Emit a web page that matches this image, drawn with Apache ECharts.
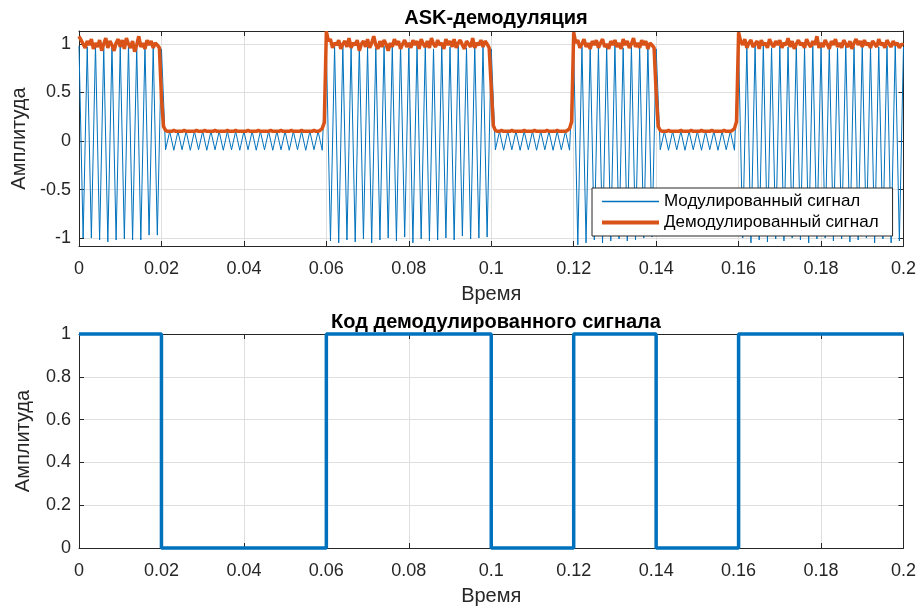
<!DOCTYPE html>
<html>
<head>
<meta charset="utf-8">
<script src="https://cdn.jsdelivr.net/npm/echarts@6/dist/echarts.min.js"></script>
<style>
  html, body { margin: 0; padding: 0; background: #fff; }
  #chart { width: 919px; height: 609px; }
</style>
</head>
<body>
<div id="chart"></div>
<script>
// Sample step of the demodulated envelope (s) and of the carrier extremes (half period, s)
const demodStep = 0.0005;
const carrierHalfPeriod = 0.001;

// Transmitted bits, one per 0.02 s
const bitDuration = 0.02;
const bits = [1, 0, 0, 1, 1, 0, 1, 0, 1, 1];

// Modulated signal: successive carrier extremes (peak, trough, ...), 10 per row = 0.01 s
const modulatedExtremes = [
  0.98, -1.00, 0.97, -1.00, 0.99, -1.02, 0.96, -1.04, 0.98, -1.02,
  0.97, -1.01, 0.99, -1.02, 0.96, -1.02, 0.98, -0.97, 0.97, -0.97,
  0.95, -0.09, 0.10, -0.095, 0.10, -0.09, 0.10, -0.095, 0.10, -0.09,
  0.10, -0.095, 0.10, -0.09, 0.10, -0.095, 0.10, -0.09, 0.10, -0.095,
  0.10, -0.09, 0.10, -0.095, 0.10, -0.09, 0.10, -0.095, 0.10, -0.09,
  0.10, -0.095, 0.10, -0.09, 0.10, -0.095, 0.10, -0.09, 0.10, -0.095,
  0.95, -1.03, 0.97, -1.05, 0.98, -1.02, 0.96, -1.04, 0.99, -1.01,
  0.97, -1.05, 0.96, -1.02, 0.98, -1.00, 0.97, -1.03, 0.99, -0.99,
  0.96, -1.05, 0.98, -1.01, 0.97, -1.03, 0.95, -1.02, 0.98, -1.00,
  0.97, -1.02, 0.99, -0.98, 0.96, -1.01, 0.98, -1.00, 0.97, -0.99,
  0.95, -0.09, 0.10, -0.095, 0.10, -0.09, 0.10, -0.095, 0.10, -0.09,
  0.10, -0.095, 0.10, -0.09, 0.10, -0.095, 0.10, -0.09, 0.10, -0.095,
  0.94, -1.07, 0.97, -1.05, 0.98, -1.02, 0.96, -1.05, 0.97, -1.03,
  0.99, -1.01, 0.96, -1.03, 0.98, -1.02, 0.97, -1.00, 0.98, -0.99,
  0.95, -0.09, 0.10, -0.095, 0.10, -0.09, 0.10, -0.095, 0.10, -0.09,
  0.10, -0.095, 0.10, -0.09, 0.10, -0.095, 0.10, -0.09, 0.10, -0.095,
  0.96, -1.00, 0.97, -1.05, 0.98, -1.02, 0.99, -1.04, 0.96, -1.01,
  0.98, -1.03, 0.97, -1.00, 0.99, -1.02, 0.96, -1.05, 0.98, -1.01,
  0.97, -1.00, 0.98, -1.03, 0.96, -1.01, 0.99, -1.04, 0.97, -1.02,
  0.98, -1.00, 0.96, -1.05, 0.97, -1.01, 0.98, -1.05, 0.99, -1.03,
  0.97
];

// Demodulated envelope, 20 samples per row = 0.01 s
const demodulated = [
  1.08, 1.04, 1.00, 0.96, 1.03, 0.99, 1.05, 0.95, 1.01, 0.97, 1.04, 0.93, 1.00, 1.06, 0.96, 1.03, 0.99, 0.93, 1.01, 1.05,
  0.97, 1.04, 0.95, 1.06, 1.00, 0.96, 1.03, 0.92, 0.99, 1.08, 0.97, 1.01, 0.95, 1.04, 0.99, 1.03, 0.96, 1.01, 0.99, 0.96,
  0.45, 0.15, 0.11, 0.10, 0.10, 0.10, 0.11, 0.10, 0.10, 0.10, 0.10, 0.11, 0.10, 0.10, 0.10, 0.10, 0.10, 0.11, 0.10, 0.10,
  0.10, 0.11, 0.10, 0.10, 0.10, 0.10, 0.11, 0.10, 0.10, 0.10, 0.10, 0.10, 0.11, 0.10, 0.10, 0.10, 0.11, 0.10, 0.10, 0.10,
  0.10, 0.10, 0.11, 0.10, 0.10, 0.10, 0.10, 0.11, 0.10, 0.10, 0.10, 0.10, 0.10, 0.11, 0.10, 0.10, 0.10, 0.10, 0.11, 0.10,
  0.10, 0.10, 0.10, 0.11, 0.10, 0.10, 0.10, 0.10, 0.11, 0.10, 0.10, 0.10, 0.10, 0.10, 0.11, 0.10, 0.10, 0.11, 0.13, 0.19,
  1.13, 1.03, 1.05, 0.96, 1.01, 0.99, 1.04, 0.95, 1.00, 1.03, 0.97, 1.06, 0.96, 1.01, 0.99, 1.04, 0.93, 1.00, 1.03, 0.97,
  1.05, 0.96, 1.01, 1.08, 0.99, 0.95, 1.03, 0.97, 1.04, 1.00, 0.93, 1.01, 0.97, 1.05, 0.99, 1.03, 0.95, 1.00, 1.04, 0.97,
  1.01, 0.96, 1.04, 0.99, 1.03, 0.95, 1.05, 1.00, 0.97, 1.03, 0.96, 1.06, 1.00, 0.97, 1.04, 0.99, 1.01, 0.95, 1.05, 0.99,
  1.03, 0.97, 1.05, 0.96, 1.01, 1.04, 0.99, 0.95, 1.03, 1.00, 0.97, 1.06, 0.96, 1.01, 0.99, 1.04, 0.97, 1.03, 1.00, 0.96,
  0.55, 0.16, 0.11, 0.10, 0.10, 0.11, 0.10, 0.10, 0.10, 0.10, 0.11, 0.10, 0.10, 0.10, 0.10, 0.10, 0.11, 0.10, 0.10, 0.10,
  0.10, 0.11, 0.10, 0.10, 0.10, 0.10, 0.10, 0.11, 0.10, 0.10, 0.10, 0.10, 0.11, 0.10, 0.10, 0.10, 0.10, 0.11, 0.13, 0.20,
  1.12, 1.01, 1.04, 0.96, 1.00, 1.05, 0.97, 1.01, 0.95, 1.03, 0.99, 1.04, 0.96, 1.01, 1.05, 0.97, 1.00, 0.95, 1.03, 0.99,
  1.04, 0.97, 1.01, 0.95, 1.05, 0.99, 1.03, 0.96, 1.00, 1.06, 0.97, 1.01, 0.96, 1.04, 0.99, 1.03, 0.95, 1.01, 0.99, 0.96,
  0.50, 0.15, 0.11, 0.10, 0.10, 0.10, 0.11, 0.10, 0.10, 0.10, 0.10, 0.10, 0.11, 0.10, 0.10, 0.10, 0.10, 0.11, 0.10, 0.10,
  0.10, 0.10, 0.11, 0.10, 0.10, 0.10, 0.10, 0.11, 0.10, 0.10, 0.10, 0.10, 0.10, 0.11, 0.10, 0.10, 0.10, 0.11, 0.13, 0.20,
  1.12, 1.03, 0.99, 1.05, 0.96, 1.01, 1.04, 0.97, 1.00, 1.03, 0.95, 1.04, 0.99, 1.01, 0.96, 1.05, 1.00, 0.97, 1.03, 0.99,
  1.04, 0.96, 1.01, 0.99, 1.06, 0.97, 1.03, 0.95, 1.00, 1.04, 0.99, 1.01, 0.96, 1.05, 1.00, 0.97, 1.03, 0.99, 1.08, 0.96,
  1.01, 0.97, 1.04, 1.00, 0.95, 1.03, 0.99, 1.05, 0.97, 1.01, 0.96, 1.04, 1.00, 0.97, 1.03, 0.95, 1.01, 1.05, 0.99, 1.03,
  0.97, 1.04, 0.99, 1.01, 0.96, 1.03, 1.00, 0.97, 1.05, 0.99, 1.01, 0.96, 1.04, 1.00, 0.97, 1.03, 0.99, 1.01, 0.96, 1.00,
  0.99
];

// Axis ticks
const timeTicks = { min: 0, max: 0.2, interval: 0.02 };
const topAmplitudeTicks = [-1, -0.5, 0, 0.5, 1];
const topAmplitudeRange = [-1.082, 1.134];
const codeTicks = { min: 0, max: 1, interval: 0.2 };

const titles = ['ASK-демодуляция', 'Код демодулированного сигнала'];
const seriesNames = ['Модулированный сигнал', 'Демодулированный сигнал'];
const xName = 'Время';
const yName = 'Амплитуда';

const BLUE = '#0072BD';
const ORANGE = '#D95319';
const AXIS = '#262626';
const GRID = '#dfdfdf';
const FONT = 'Liberation Sans, Arial, sans-serif';
const TICK_SIZE = 18;
const LABEL_SIZE = 20;

const modulatedData = modulatedExtremes.map((v, i) => [i * carrierHalfPeriod, v]);
const demodData = demodulated.map((v, i) => [i * demodStep, v]);
const codeData = bits.map((b, i) => [i * bitDuration, b]);
codeData.push([bits.length * bitDuration, bits[bits.length - 1]]);

const grids = [
  { left: 79, top: 31, width: 825, height: 215 },
  { left: 79, top: 334, width: 825, height: 214 }
];

function xAxes(gridIndex) {
  const common = {
    type: 'value', gridIndex,
    min: timeTicks.min, max: timeTicks.max, interval: timeTicks.interval,
    axisLine: { show: true, onZero: false, lineStyle: { color: AXIS, width: 1 } },
    axisTick: { show: true, inside: true, length: 5, lineStyle: { color: AXIS } }
  };
  return [
    Object.assign({}, common, {
      position: 'bottom',
      name: xName, nameLocation: 'middle', nameGap: 38,
      nameTextStyle: { fontFamily: FONT, fontSize: LABEL_SIZE, color: AXIS },
      axisLabel: { fontFamily: FONT, fontSize: TICK_SIZE, color: AXIS, margin: 14 },
      splitLine: { show: true, lineStyle: { color: GRID, width: 1 } }
    }),
    Object.assign({}, common, {
      position: 'top',
      axisLabel: { show: false },
      splitLine: { show: false }
    })
  ];
}

function yAxes(gridIndex, opts) {
  const common = Object.assign({
    type: 'value', gridIndex,
    axisLine: { show: true, onZero: false, lineStyle: { color: AXIS, width: 1 } }
  }, opts.range);
  const tick = { show: true, inside: true, length: 5, lineStyle: { color: AXIS } };
  if (opts.custom) tick.customValues = opts.custom;
  const label = { fontFamily: FONT, fontSize: TICK_SIZE, color: AXIS, margin: 8 };
  if (opts.custom) label.customValues = opts.custom;
  return [
    Object.assign({}, common, {
      position: 'left',
      name: yName, nameLocation: 'middle', nameGap: 46,
      nameTextStyle: { fontFamily: FONT, fontSize: LABEL_SIZE, color: AXIS },
      axisTick: tick,
      axisLabel: label,
      splitLine: { show: true, lineStyle: { color: GRID, width: 1 } }
    }),
    Object.assign({}, common, {
      position: 'right',
      axisTick: tick,
      axisLabel: { show: false },
      splitLine: { show: false }
    })
  ];
}

const chart = echarts.init(document.getElementById('chart'), null, { renderer: 'canvas' });

chart.setOption({
  animation: false,
  backgroundColor: '#fff',
  title: [
    { text: titles[0], left: 491, top: 3, textAlign: 'center',
      textStyle: { fontFamily: FONT, fontSize: LABEL_SIZE, fontWeight: 'bold', color: '#000' } },
    { text: titles[1], left: 491, top: 307, textAlign: 'center',
      textStyle: { fontFamily: FONT, fontSize: LABEL_SIZE, fontWeight: 'bold', color: '#000' } }
  ],
  grid: grids,
  xAxis: [].concat(xAxes(0), xAxes(1)),
  yAxis: [].concat(
    yAxes(0, { range: { min: topAmplitudeRange[0], max: topAmplitudeRange[1] }, custom: topAmplitudeTicks }),
    yAxes(1, { range: codeTicks })
  ),
  legend: {
    left: 592, top: 188,
    orient: 'vertical',
    padding: [5, 14, 5, 8],
    itemGap: 4,
    itemWidth: 57,
    itemHeight: 14,
    backgroundColor: '#fff',
    borderColor: AXIS,
    borderWidth: 1,
    itemStyle: { opacity: 0 },
    textStyle: { fontFamily: FONT, fontSize: 17, color: '#000' },
    data: [
      { name: seriesNames[0], lineStyle: { color: BLUE, width: 1.4 } },
      { name: seriesNames[1], lineStyle: { color: ORANGE, width: 4 } }
    ]
  },
  series: [
    {
      name: seriesNames[0], type: 'line',
      xAxisIndex: 0, yAxisIndex: 0,
      data: modulatedData,
      symbol: 'none', showSymbol: false,
      lineStyle: { color: BLUE, width: 1 },
      itemStyle: { color: BLUE }
    },
    {
      name: seriesNames[1], type: 'line',
      xAxisIndex: 0, yAxisIndex: 0,
      data: demodData,
      symbol: 'none', showSymbol: false,
      lineStyle: { color: ORANGE, width: 3.5 },
      itemStyle: { color: ORANGE }
    },
    {
      name: 'code', type: 'line',
      xAxisIndex: 2, yAxisIndex: 2,
      data: codeData,
      step: 'end',
      clip: false,
      symbol: 'none', showSymbol: false,
      lineStyle: { color: BLUE, width: 3.5 },
      itemStyle: { color: BLUE }
    }
  ]
});
</script>
</body>
</html>
